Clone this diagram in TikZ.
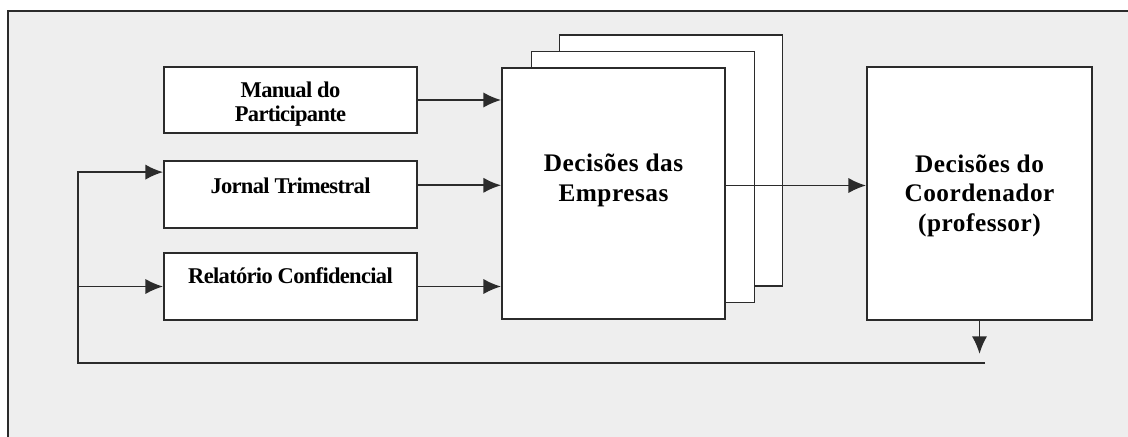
\documentclass[tikz,border=0pt]{standalone}
\usepackage{fontspec}
\setmainfont{Liberation Serif}
\newfontfamily\spacedSerif{Liberation Serif}[LetterSpace=2]
\newfontfamily\tightSerif{Liberation Serif}[LetterSpace=-3]
\usepackage{tikz}
\usetikzlibrary{positioning,arrows.meta}
\definecolor{panelGray}{HTML}{EEEEEE}
\definecolor{lineGray}{HTML}{2B2B2B}

\begin{document}
\begin{tikzpicture}[
    inputBox/.style={rectangle, draw=lineGray, fill=white, line width=1.3pt, minimum width=6.325cm, minimum height=1.675cm, inner sep=0pt},
    deciBox/.style={rectangle, draw=lineGray, fill=white, line width=1.3pt, minimum width=5.575cm, minimum height=6.275cm, inner sep=0pt},
    smallText/.style={font=\tightSerif\fontsize{16}{17}\selectfont\bfseries, align=center, inner sep=0pt},
    bigText/.style={font=\spacedSerif\fontsize{18}{21}\selectfont\bfseries, align=center, inner sep=0pt},
    arrowStyle/.style={-{Latex[length=4.4mm,width=3.8mm]}, line width=1.3pt, draw=lineGray},
    lineStyle/.style={line width=1.3pt, draw=lineGray}
]
    \useasboundingbox (0,0) rectangle (28.2,-10.9);
    \clip (0,0) rectangle (28.2,-10.9);
    \fill[white] (0,0) rectangle (28.2,-10.9);

    % grey panel, open to the right and bottom
    \draw[lineStyle, fill=panelGray] (0.2,-11.5) -- (0.2,-0.275) -- (28.6,-0.275) -- (28.6,-11.5) -- cycle;

    % inputs
    \node[inputBox, minimum height=1.65cm] (manual) at (7.2625,-2.5) {};
    \node[smallText] (manualTxt) at ([yshift=-1mm]manual.center) {Manual do\\Participante};

    \node[inputBox] (jornal) at (7.2625,-4.8625) {};
    \node[smallText] (jornalTxt) at ([yshift=2.3mm]jornal.center) {Jornal Trimestral};

    \node[inputBox] (rel) at (7.2625,-7.1625) {};
    \node[smallText] (relTxt) at ([yshift=2.6mm]rel.center) {Relatório Confidencial};

    % stacked sheets of the firms
    \node[deciBox] (empBack2) at (16.775,-4.0125) {};
    \node[deciBox] (empBack1) at (16.075,-4.425) {};
    \node[deciBox] (emp) at (15.3375,-4.8375) {};
    \node[bigText] (empTxt) at ([yshift=3.3mm]emp.center) {Decisões das\\Empresas};

    \node[deciBox, minimum width=5.625cm, minimum height=6.325cm] (coord) at (24.4875,-4.8375) {};
    \node[bigText] (coordTxt) at ([yshift=-0.5mm]coord.center) {Decisões do\\Coordenador\\(professor)};

    \coordinate (empOut) at ([yshift=2mm]emp.east);
    \coordinate (jornIn) at ([yshift=5.6mm]jornal.west);
    \coordinate (dropEnd) at ([yshift=-8.25mm]coord.south);
    \coordinate (loopL) at (1.95,-9.075);
    \coordinate (loopR) at (24.625,-9.075);

    \draw[arrowStyle] (manual.east) -- (manual.east -| emp.west);
    \draw[arrowStyle] (jornal.east |- jornalTxt) -- (emp.west |- jornalTxt);
    \draw[arrowStyle] (rel.east) -- (rel.east -| emp.west);
    \draw[arrowStyle] (empOut) -- (empOut -| coord.west);

    % feedback loop
    \draw[arrowStyle] (coord.south) -- (dropEnd);
    \draw[arrowStyle] (loopR) -- (loopL) -- (loopL |- jornIn) -- (jornIn);
    \draw[arrowStyle] (loopL |- rel.west) -- (rel.west);
\end{tikzpicture}
\end{document}
